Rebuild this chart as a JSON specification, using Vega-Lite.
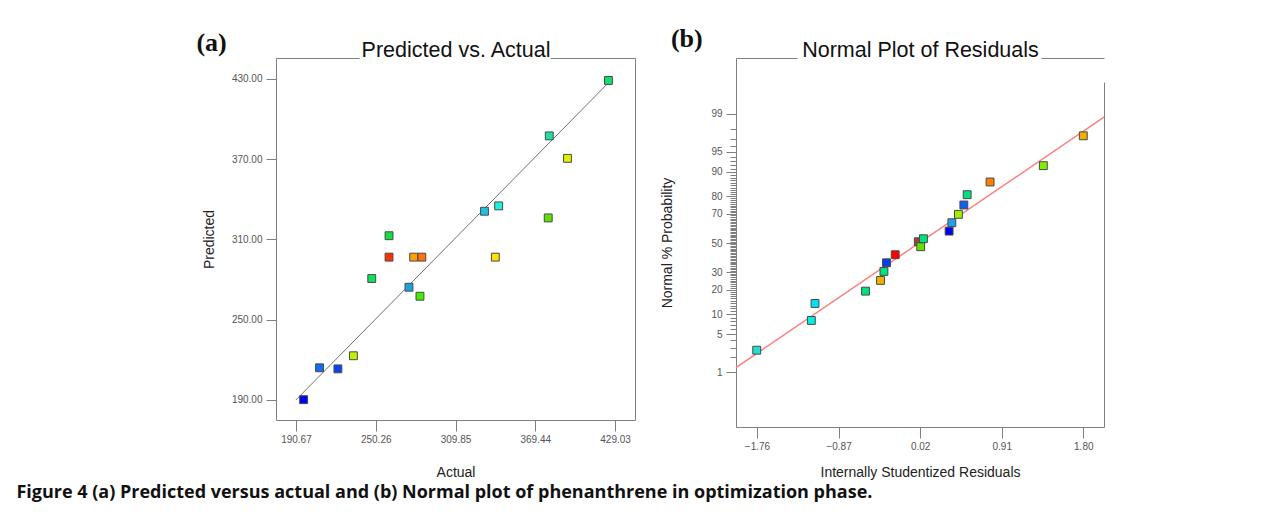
{
  "$schema": "https://vega.github.io/schema/vega-lite/v6.json",
  "background": "white",
  "padding": {"left": 16, "top": 26, "right": 5, "bottom": 5},
  "datasets": {
    "pva": [
      {"run": "a01", "actual": 424.1, "predicted": 428.7},
      {"run": "a02", "actual": 379.9, "predicted": 387.3},
      {"run": "a03", "actual": 393.5, "predicted": 370.5},
      {"run": "a04", "actual": 331.5, "predicted": 331.0},
      {"run": "a05", "actual": 342.1, "predicted": 335.0},
      {"run": "a06", "actual": 379.1, "predicted": 326.0},
      {"run": "a07", "actual": 260.2, "predicted": 312.7},
      {"run": "a08", "actual": 260.2, "predicted": 296.7},
      {"run": "a09", "actual": 278.6, "predicted": 296.7},
      {"run": "a10", "actual": 284.7, "predicted": 296.7},
      {"run": "a11", "actual": 339.6, "predicted": 296.7},
      {"run": "a12", "actual": 247.3, "predicted": 280.7},
      {"run": "a13", "actual": 275.1, "predicted": 274.2},
      {"run": "a14", "actual": 283.3, "predicted": 267.5},
      {"run": "a15", "actual": 233.6, "predicted": 223.0},
      {"run": "a16", "actual": 208.3, "predicted": 214.0},
      {"run": "a17", "actual": 222.0, "predicted": 213.2},
      {"run": "a18", "actual": 196.4, "predicted": 190.2}
    ],
    "pva_fit": [
      {"actual": 190.67, "predicted": 190.0},
      {"actual": 424.6, "predicted": 427.5}
    ],
    "npr": [
      {"run": "b01", "residual": 1.80, "normal_quantile": 1.93},
      {"run": "b02", "residual": 1.364, "normal_quantile": 1.393},
      {"run": "b03", "residual": 0.783, "normal_quantile": 1.099},
      {"run": "b04", "residual": 0.533, "normal_quantile": 0.870},
      {"run": "b05", "residual": 0.497, "normal_quantile": 0.685},
      {"run": "b06", "residual": 0.438, "normal_quantile": 0.517},
      {"run": "b07", "residual": 0.366, "normal_quantile": 0.366},
      {"run": "b08", "residual": 0.336, "normal_quantile": 0.215},
      {"run": "b10", "residual": 0.000, "normal_quantile": 0.024},
      {"run": "b09", "residual": 0.056, "normal_quantile": 0.078},
      {"run": "b11", "residual": 0.026, "normal_quantile": -0.066},
      {"run": "b12", "residual": -0.252, "normal_quantile": -0.21},
      {"run": "b13", "residual": -0.347, "normal_quantile": -0.355},
      {"run": "b14", "residual": -0.375, "normal_quantile": -0.51},
      {"run": "b15", "residual": -0.412, "normal_quantile": -0.672},
      {"run": "b16", "residual": -0.576, "normal_quantile": -0.865},
      {"run": "b17", "residual": -1.127, "normal_quantile": -1.087},
      {"run": "b18", "residual": -1.167, "normal_quantile": -1.393},
      {"run": "b19", "residual": -1.763, "normal_quantile": -1.928}
    ],
    "npr_fit": [
      {"residual": -1.989, "normal_quantile": -2.24},
      {"residual": 2.026, "normal_quantile": 2.265}
    ]
  },
  "title": {
    "text": "Figure 4 (a) Predicted versus actual and (b) Normal plot of phenanthrene in optimization phase.",
    "orient": "bottom",
    "anchor": "start",
    "frame": "bounds",
    "font": "Open Sans",
    "fontSize": 18,
    "fontWeight": "bold",
    "color": "#111111",
    "dx": -180,
    "offset": 5
  },
  "hconcat": [
    {
      "width": 359,
      "height": 362,
      "title": {
        "text": "(a)",
        "anchor": "start",
        "frame": "bounds",
        "font": "Liberation Serif",
        "fontSize": 26,
        "fontWeight": "bold",
        "color": "#111111",
        "baseline": "alphabetic",
        "offset": -38,
        "dx": -6
      },
      "layer": [
        {
          "data": {"name": "pva_fit"},
          "mark": {"type": "line", "color": "#707070", "strokeWidth": 1},
          "encoding": {
            "x": {
              "field": "actual", "type": "quantitative",
              "scale": {"domain": [175.77, 443.93], "nice": false, "zero": false},
              "axis": {
                "orient": "top", "title": "Predicted vs. Actual", "labels": false, "ticks": false,
                "grid": false, "domainDash": [83, 191, 400],
                "titleFontSize": 21.5, "titleColor": "#111111", "titleBaseline": "alphabetic", "titlePadding": 2
              }
            },
            "y": {
              "field": "predicted", "type": "quantitative",
              "scale": {"domain": [175, 445.5], "nice": false, "zero": false},
              "axis": {"orient": "right", "title": null, "labels": false, "ticks": false, "grid": false}
            }
          }
        },
        {
          "data": {"name": "pva"},
          "mark": {"type": "point", "shape": "square", "filled": true, "size": 62, "stroke": "#4a4a4a", "strokeWidth": 1, "opacity": 1},
          "encoding": {
            "x": {
              "field": "actual", "type": "quantitative",
              "axis": {
                "orient": "bottom", "title": "Actual", "values": [190.67, 250.26, 309.85, 369.44, 429.03],
                "format": ".2f", "tickSize": 11, "labelPadding": 3, "titlePadding": 21, "grid": false
              }
            },
            "y": {
              "field": "predicted", "type": "quantitative",
              "axis": {
                "orient": "left", "title": "Predicted", "values": [190, 250, 310, 370, 430],
                "format": ".2f", "tickSize": 10, "labelPadding": 4, "titlePadding": 15, "grid": false
              }
            },
            "color": {
              "field": "run", "type": "nominal", "legend": null,
              "scale": {
                "domain": ["a01","a02","a03","a04","a05","a06","a07","a08","a09","a10","a11","a12","a13","a14","a15","a16","a17","a18"],
                "range": ["#10e070","#20e0a0","#e0f000","#20c0e0","#20f0e0","#60e000","#10e040","#ff3000","#ffa000","#ff7010","#ffe000","#10e060","#20a0e0","#40f000","#c0f000","#1070f0","#1040f0","#0000ff"]
              }
            }
          }
        }
      ],
      "resolve": {"axis": {"x": "independent", "y": "independent"}}
    },
    {
      "width": 368,
      "height": 369,
      "title": {
        "text": "(b)",
        "anchor": "start",
        "frame": "bounds",
        "font": "Liberation Serif",
        "fontSize": 26,
        "fontWeight": "bold",
        "color": "#111111",
        "baseline": "alphabetic",
        "offset": -34,
        "dx": 10
      },
      "layer": [
        {
          "data": {"name": "npr_fit"},
          "mark": {"type": "line", "color": "#ff7f7f", "strokeWidth": 1.5},
          "encoding": {
            "x": {
              "field": "residual", "type": "quantitative",
              "scale": {"domain": [-1.989, 2.026], "nice": false, "zero": false},
              "axis": {
                "orient": "top", "title": "Normal Plot of Residuals", "labels": false, "ticks": false,
                "grid": false, "domainDash": [61, 244, 400],
                "titleFontSize": 21.5, "titleColor": "#111111", "titleBaseline": "alphabetic", "titlePadding": 2
              }
            },
            "y": {
              "field": "normal_quantile", "type": "quantitative",
              "scale": {"domain": [-3.31, 3.33], "nice": false, "zero": false},
              "axis": {"orient": "right", "title": null, "labels": false, "ticks": false, "grid": false, "domainDash": [345, 100]}
            }
          }
        },
        {
          "data": {"name": "npr"},
          "mark": {"type": "point", "shape": "square", "filled": true, "size": 62, "stroke": "#4a4a4a", "strokeWidth": 1, "opacity": 1},
          "encoding": {
            "x": {
              "field": "residual", "type": "quantitative",
              "axis": {
                "orient": "bottom", "title": "Internally Studentized Residuals", "values": [-1.76, -0.87, 0.02, 0.91, 1.80],
                "format": ".2f", "tickSize": 11, "labelPadding": 3, "titlePadding": 14, "grid": false
              }
            },
            "y": {
              "field": "normal_quantile", "type": "quantitative",
              "axis": {
                "orient": "left", "title": "Normal % Probability",
                "values": [-2.3263,-2.0537,-1.8808,-1.7507,-1.6449,-1.5548,-1.4758,-1.4051,-1.3408,-1.2816,-1.2265,-1.175,-1.1264,-1.0803,-1.0364,-0.9945,-0.9542,-0.9154,-0.8779,-0.8416,-0.8064,-0.7722,-0.7388,-0.7063,-0.6745,-0.6433,-0.6128,-0.5828,-0.5534,-0.5244,-0.4959,-0.4677,-0.4399,-0.4125,-0.3853,-0.3585,-0.3319,-0.3055,-0.2793,-0.2533,-0.2275,-0.2019,-0.1764,-0.151,-0.1257,-0.1004,-0.0753,-0.0502,-0.0251,0,0.0251,0.0502,0.0753,0.1004,0.1257,0.151,0.1764,0.2019,0.2275,0.2533,0.2793,0.3055,0.3319,0.3585,0.3853,0.4125,0.4399,0.4677,0.4959,0.5244,0.5534,0.5828,0.6128,0.6433,0.6745,0.7063,0.7388,0.7722,0.8064,0.8416,0.8779,0.9154,0.9542,0.9945,1.0364,1.0803,1.1264,1.175,1.2265,1.2816,1.3408,1.4051,1.4758,1.5548,1.6449,1.7507,1.8808,2.0537,2.3263],
                "labelExpr": "indexof([1,5,10,20,30,50,70,80,90,95,99], round(cumulativeNormal(datum.value)*100)) >= 0 ? format(round(cumulativeNormal(datum.value)*100), 'd') : ''",
                "labelOverlap": false,
                "labelFlush": false,
                "tickSize": {"condition": {"test": "indexof([1,5,10,20,30,50,70,80,90,95,99], round(cumulativeNormal(datum.value)*100)) >= 0", "value": 10}, "value": 6},
                "labelPadding": 4, "titlePadding": 36, "grid": false
              }
            },
            "color": {
              "field": "run", "type": "nominal", "legend": null,
              "scale": {
                "domain": ["b01","b02","b03","b04","b05","b06","b07","b08","b09","b10","b11","b12","b13","b14","b15","b16","b17","b18","b19"],
                "range": ["#f0b000","#80f000","#ff8000","#00e080","#1060f0","#a0f000","#20a0f0","#0000f0","#00e080","#a04040","#60e000","#ff0000","#0040f0","#00e080","#f0b000","#00e080","#00e0f0","#00f0e0","#20e0d0"]
              }
            }
          }
        }
      ],
      "resolve": {"axis": {"x": "independent", "y": "independent"}}
    }
  ],
  "spacing": 25,
  "resolve": {"scale": {"color": "independent"}},
  "config": {
    "view": {"stroke": null},
    "axis": {
      "domainColor": "#7f7f7f",
      "domainWidth": 1,
      "tickColor": "#7f7f7f",
      "tickWidth": 1,
      "labelColor": "#555555",
      "labelFont": "Liberation Sans",
      "labelFontSize": 10,
      "titleFont": "Liberation Sans",
      "titleFontSize": 14,
      "titleFontWeight": "normal",
      "titleColor": "#222222"
    },
    "title": {"font": "Liberation Sans"}
  }
}
